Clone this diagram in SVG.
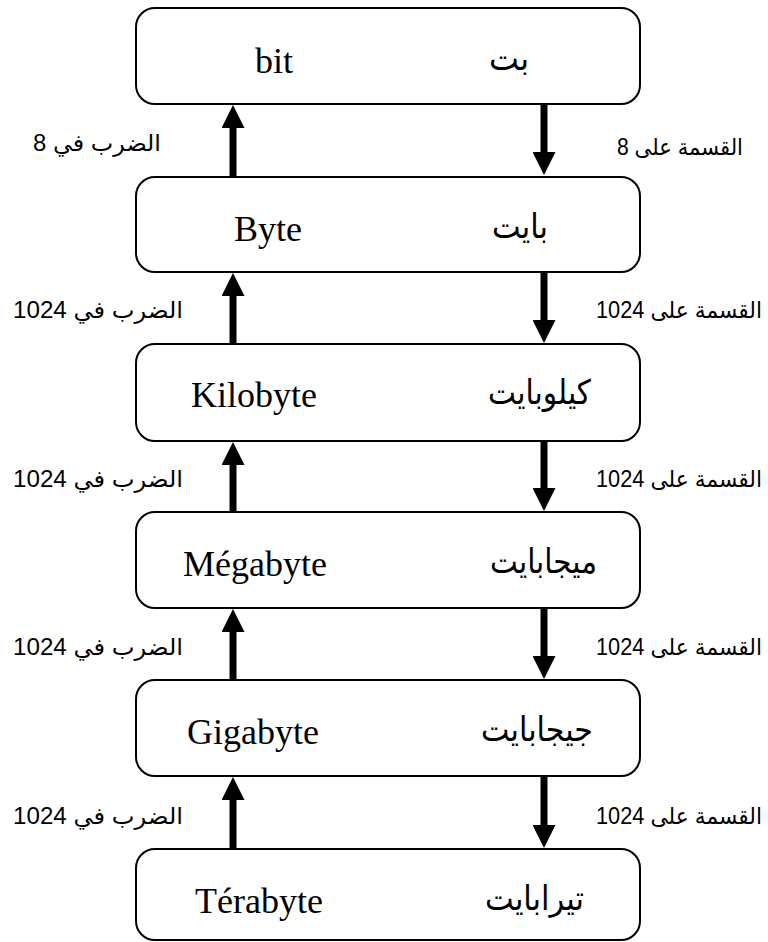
<svg xmlns="http://www.w3.org/2000/svg" width="768" height="942" viewBox="0 0 768 942">
<style>
.box{fill:#fff;stroke:#000;stroke-width:2}
.en{font-family:"Liberation Serif","Times New Roman",serif;font-size:36px;fill:#000}
.ar{font-family:"DejaVu Sans",sans-serif;font-size:34px;fill:#000}
.lbl{font-family:"Liberation Sans","DejaVu Sans",sans-serif;font-size:23px;fill:#000}
.lft{text-anchor:start}
.rgt{text-anchor:end}
.arr{stroke:#000;stroke-width:7;fill:none}
</style>
<defs>
<marker id="head" viewBox="0 0 23 23" refX="0" refY="11.5" markerWidth="23" markerHeight="23" markerUnits="userSpaceOnUse" orient="auto">
<path d="M0,0 L23,11.5 L0,23 Z" fill="#000"/>
</marker>
</defs>
<rect width="768" height="942" fill="#fff"/>
<g id="n-bit"><rect class="box" x="136" y="8" width="504" height="96" rx="19"/><text class="en" x="255" y="73">bit</text><text class="ar" x="529" y="70" text-anchor="end" textLength="40" lengthAdjust="spacingAndGlyphs">بت</text></g>
<g id="n-byte"><rect class="box" x="136" y="177" width="504" height="95" rx="19"/><text class="en" x="234" y="241">Byte</text><text class="ar" x="548" y="238" text-anchor="end" textLength="56" lengthAdjust="spacingAndGlyphs">بايت</text></g>
<g id="n-kilo"><rect class="box" x="136" y="344" width="504" height="97" rx="19"/><text class="en" x="191" y="407">Kilobyte</text><text class="ar" x="591" y="404" text-anchor="end" textLength="103" lengthAdjust="spacingAndGlyphs">كيلوبايت</text></g>
<g id="n-mega"><rect class="box" x="136" y="512" width="504" height="96" rx="19"/><text class="en" x="183" y="576">Mégabyte</text><text class="ar" x="597" y="573" text-anchor="end" textLength="107" lengthAdjust="spacingAndGlyphs">ميجابايت</text></g>
<g id="n-giga"><rect class="box" x="136" y="680" width="504" height="96" rx="19"/><text class="en" x="187" y="744">Gigabyte</text><text class="ar" x="593" y="741" text-anchor="end" textLength="112" lengthAdjust="spacingAndGlyphs">جيجابايت</text></g>
<g id="n-tera"><rect class="box" x="136" y="849" width="504" height="91" rx="19"/><text class="en" x="195" y="913">Térabyte</text><text class="ar" x="584" y="910" text-anchor="end" textLength="99" lengthAdjust="spacingAndGlyphs">تيرابايت</text></g>
<g id="connectors">
<line class="arr" x1="233" y1="177" x2="233" y2="128" marker-end="url(#head)"/>
<line class="arr" x1="544" y1="104" x2="544" y2="152" marker-end="url(#head)"/>
<line class="arr" x1="233" y1="344" x2="233" y2="296" marker-end="url(#head)"/>
<line class="arr" x1="544" y1="272" x2="544" y2="320" marker-end="url(#head)"/>
<line class="arr" x1="233" y1="512" x2="233" y2="465" marker-end="url(#head)"/>
<line class="arr" x1="544" y1="441" x2="544" y2="488" marker-end="url(#head)"/>
<line class="arr" x1="233" y1="680" x2="233" y2="632" marker-end="url(#head)"/>
<line class="arr" x1="544" y1="608" x2="544" y2="656" marker-end="url(#head)"/>
<line class="arr" x1="233" y1="849" x2="233" y2="800" marker-end="url(#head)"/>
<line class="arr" x1="544" y1="776" x2="544" y2="825" marker-end="url(#head)"/>
</g>
<g id="labels">
<text class="lbl lft" x="33" y="151" textLength="128" lengthAdjust="spacingAndGlyphs">الضرب في 8</text>
<text class="lbl rgt" x="743" y="155" textLength="126" lengthAdjust="spacingAndGlyphs">القسمة على 8</text>
<text class="lbl lft" x="13" y="318" textLength="170" lengthAdjust="spacingAndGlyphs">الضرب في 1024</text>
<text class="lbl rgt" x="762" y="318" textLength="166" lengthAdjust="spacingAndGlyphs">القسمة على 1024</text>
<text class="lbl lft" x="13" y="487" textLength="170" lengthAdjust="spacingAndGlyphs">الضرب في 1024</text>
<text class="lbl rgt" x="762" y="487" textLength="166" lengthAdjust="spacingAndGlyphs">القسمة على 1024</text>
<text class="lbl lft" x="13" y="655" textLength="170" lengthAdjust="spacingAndGlyphs">الضرب في 1024</text>
<text class="lbl rgt" x="762" y="655" textLength="166" lengthAdjust="spacingAndGlyphs">القسمة على 1024</text>
<text class="lbl lft" x="13" y="824" textLength="170" lengthAdjust="spacingAndGlyphs">الضرب في 1024</text>
<text class="lbl rgt" x="762" y="824" textLength="166" lengthAdjust="spacingAndGlyphs">القسمة على 1024</text>
</g>
</svg>
